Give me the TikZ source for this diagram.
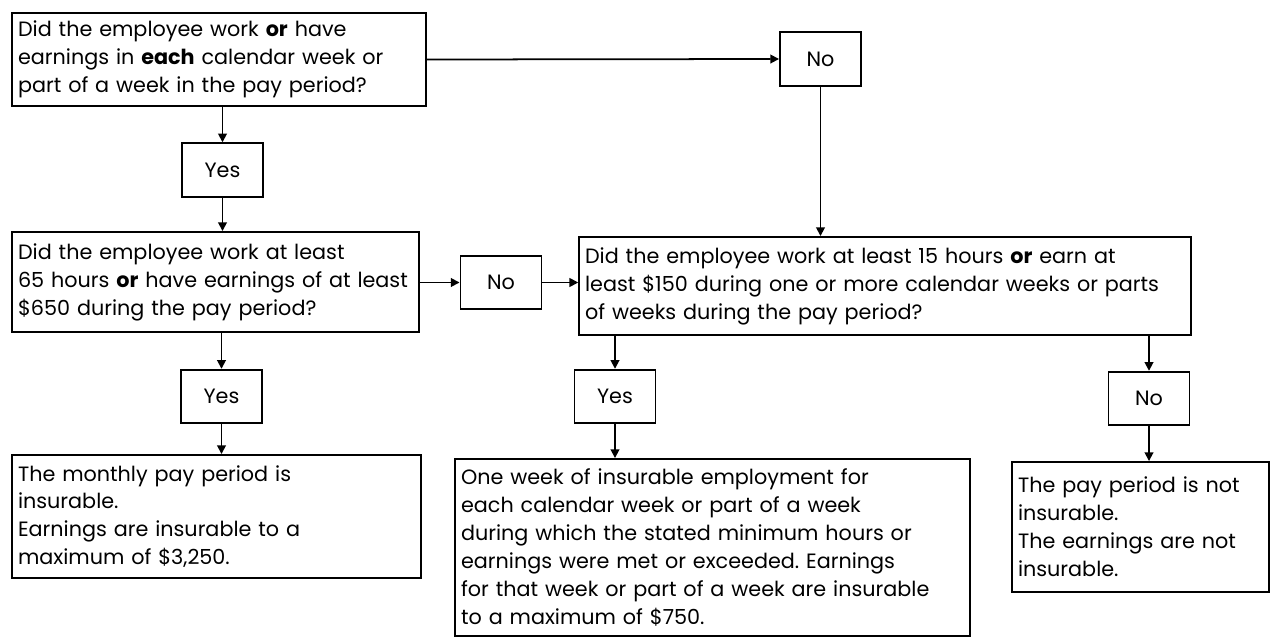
\documentclass[tikz,border=0pt]{standalone}
\usepackage{fontspec}
\setmainfont{Poppins}
\frenchspacing
\usetikzlibrary{arrows.meta}
\begin{document}
\begin{tikzpicture}[x=0.02cm,y=-0.02cm,
  >={Triangle[length=5pt,width=5pt]},
  every path/.style={line width=1pt},
  qbox/.style={draw,line width=1.1pt,align=left,inner ysep=0pt,font=\fontsize{11.8}{15.9}\selectfont},
  ans/.style={draw,line width=1.1pt,minimum width=1.62cm,minimum height=1.07cm,inner sep=0pt,font=\fontsize{11.8}{15.9}\selectfont}]
\useasboundingbox (0,0) rectangle (1282,639);
% questions
\node[qbox,text width=8.04cm,minimum height=1.86cm] (A) at (219,59.5) {Did the employee work \textbf{or} have\\ earnings in \textbf{each} calendar week or\\ part of a week in the pay period?};
\node[ans] (No1) at (820.5,59) {No};
\node[ans] (Yes1) at (222.5,170) {Yes};
\node[qbox,text width=7.9cm,minimum height=2.0cm] (B) at (215.5,282) {Did the employee work at least\\ 65 hours \textbf{or} have earnings of at least\\ \$650 during the pay period?};
\node[ans] (No2) at (501,282.5) {No};
\node[qbox,text width=12.0cm,minimum height=1.96cm] (D) at (885,286) {Did the employee work at least 15 hours \textbf{or} earn at\\ least \$150 during one or more calendar weeks or parts\\ of weeks during the pay period?};
% answers
\node[ans] (Yes2) at (221.5,396.5) {Yes};
\node[ans] (Yes3) at (615,396.5) {Yes};
\node[ans] (No3) at (1149,398.5) {No};
\node[qbox,text width=7.94cm,minimum height=2.46cm] (C) at (216.5,516.5) {The monthly pay period is\\ insurable.\\ Earnings are insurable to a\\ maximum of \$3,250.};
\node[qbox,text width=10.06cm,minimum height=3.54cm] (F) at (712.5,547.5) {One week of insurable employment for\\ each calendar week or part of a week\\ during which the stated minimum hours or\\ earnings were met or exceeded. Earnings\\ for that week or part of a week are insurable\\ to a maximum of \$750.};
\node[qbox,text width=4.9cm,minimum height=2.6cm] (E) at (1140.5,527) {The pay period is not\\ insurable.\\ The earnings are not\\ insurable.};
% arrows
\draw[->] (A.east) -- (No1.west);
\draw[->] (No1.south) -- (No1.south |- D.north);
\draw[->] (Yes1.north |- A.south) -- (Yes1.north);
\draw[->] (Yes1.south) -- (Yes1.south |- B.north);
\draw[->] (B.east |- No2.west) -- (No2.west);
\draw[->] (No2.east) -- (No2.east -| D.west);
\draw[->] (Yes2.north |- B.south) -- (Yes2.north);
\draw[->] (Yes2.south) -- (Yes2.south |- C.north);
\draw[->] (Yes3.north |- D.south) -- (Yes3.north);
\draw[->] (Yes3.south) -- (Yes3.south |- F.north);
\draw[->] (No3.north |- D.south) -- (No3.north);
\draw[->] (No3.south) -- (No3.south |- E.north);
\end{tikzpicture}
\end{document}
